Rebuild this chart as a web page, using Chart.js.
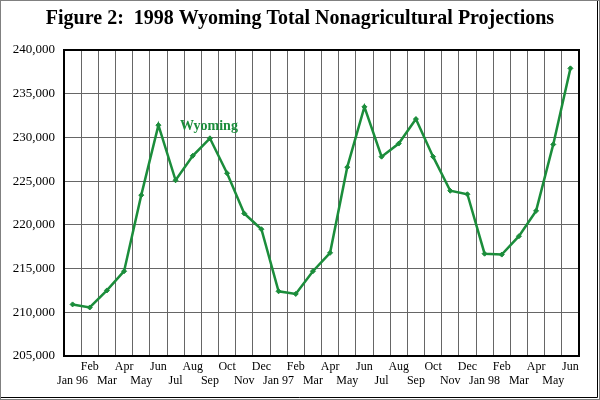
<!DOCTYPE html>
<html>
<head>
<meta charset="utf-8">
<script src="https://cdn.jsdelivr.net/npm/chart.js@4"></script>
<style>
  html, body { margin: 0; padding: 0; background: #fff; }
  #wrap { width: 600px; height: 400px; position: relative; }
</style>
</head>
<body>
<div id="wrap"><canvas id="chart" width="600" height="400"></canvas></div>
<script>
// Wyoming nonagricultural employment, Jan 96 - Jun 98
const months = ['Jan 96', 'Feb', 'Mar', 'Apr', 'May', 'Jun', 'Jul', 'Aug', 'Sep', 'Oct', 'Nov', 'Dec',
                'Jan 97', 'Feb', 'Mar', 'Apr', 'May', 'Jun', 'Jul', 'Aug', 'Sep', 'Oct', 'Nov', 'Dec',
                'Jan 98', 'Feb', 'Mar', 'Apr', 'May', 'Jun'];
const wyoming = [210900, 210550, 212500, 214700, 223400, 231400, 225100, 227900, 229900, 225900, 221300, 219500,
                 212400, 212100, 214700, 216800, 226600, 233500, 227800, 229300, 232100, 227800, 223900, 223500,
                 216700, 216600, 218700, 221600, 229200, 237900];
const yMin = 205000, yMax = 240000, yStep = 5000;

const titleText = 'Figure 2:  1998 Wyoming Total Nonagricultural Projections';
const seriesName = 'Wyoming';
const green = '#1b8d3b';

// alternate label rows: even index on lower row, odd on upper row
const xLabels = months.map((m, i) => i % 2 === 0 ? ['', m] : [m, '']);

const decor = {
  id: 'decor',
  beforeDraw(chart) {
    const c = chart.ctx;
    c.save();
    c.fillStyle = '#fff';
    c.fillRect(0, 0, chart.width, chart.height);
    c.restore();
  },
  afterDraw(chart) {
    const c = chart.ctx;
    const a = chart.chartArea;
    c.save();
    // plot frame
    c.strokeStyle = '#000';
    c.lineWidth = 2;
    c.strokeRect(a.left, a.top, a.right - a.left, a.bottom - a.top);
    // outer frame
    c.lineWidth = 1;
    c.strokeStyle = '#808080';
    c.strokeRect(0.5, 0.5, chart.width - 1, chart.height - 1);
    c.strokeStyle = '#000';
    c.beginPath();
    c.moveTo(chart.width - 2.5, 1);
    c.lineTo(chart.width - 2.5, chart.height - 2.5);
    c.lineTo(1, chart.height - 2.5);
    c.stroke();
    // title
    c.fillStyle = '#000';
    c.font = 'bold 20px "Liberation Serif", "Times New Roman", serif';
    c.textAlign = 'center';
    c.textBaseline = 'alphabetic';
    c.fillText(titleText, 300, 24);
    // series label
    c.fillStyle = green;
    c.font = 'bold 14px "Liberation Serif", "Times New Roman", serif';
    c.fillText(seriesName, 209, 130);
    c.restore();
  }
};

new Chart(document.getElementById('chart'), {
  type: 'line',
  data: {
    labels: xLabels,
    datasets: [{
      label: seriesName,
      data: wyoming,
      borderColor: green,
      backgroundColor: green,
      borderWidth: 2.5,
      pointStyle: 'rectRot',
      pointRadius: 2.5,
      pointBorderWidth: 1,
      tension: 0
    }]
  },
  options: {
    responsive: false,
    animation: false,
    devicePixelRatio: 1,
    layout: { padding: { left: 0, right: 21, top: 50, bottom: 0 } },
    plugins: {
      legend: { display: false },
      title: { display: false },
      tooltip: { enabled: false }
    },
    scales: {
      x: {
        offset: true,
        grid: { offset: true, color: '#666', lineWidth: 1, drawTicks: false },
        border: { color: '#000', width: 2 },
        ticks: {
          autoSkip: false,
          maxRotation: 0,
          padding: 4,
          color: '#000',
          font: { family: '"Liberation Serif", "Times New Roman", serif', size: 12, lineHeight: 1.17 }
        },
        afterFit(scale) { scale.height = 44; }
      },
      y: {
        min: yMin,
        max: yMax,
        grid: { color: '#666', lineWidth: 1, drawTicks: false },
        border: { color: '#000', width: 2 },
        ticks: {
          stepSize: yStep,
          padding: 9,
          color: '#000',
          font: { family: '"Liberation Serif", "Times New Roman", serif', size: 13 },
          callback: v => v.toLocaleString('en-US')
        },
        afterFit(scale) { scale.width = 64; }
      }
    }
  },
  plugins: [decor]
});
</script>
</body>
</html>
